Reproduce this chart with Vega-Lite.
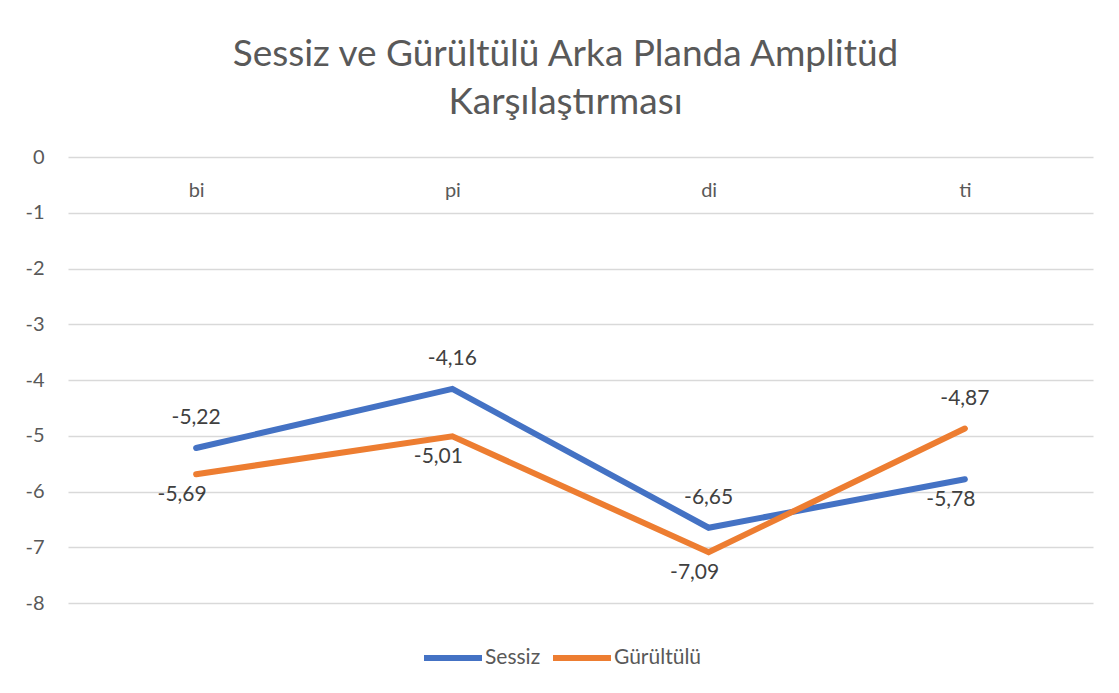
{
  "$schema": "https://vega.github.io/schema/vega-lite/v6.json",
  "width": 1025,
  "height": 446,
  "autosize": {"type": "none"},
  "padding": {"left": 68, "top": 157, "right": 26, "bottom": 90},
  "background": "#ffffff",
  "config": {
    "locale": {"number": {"decimal": ",", "thousands": ".", "grouping": [3], "currency": ["", " ₺"], "minus": "-"}},
    "view": {"stroke": null},
    "font": "Lato"
  },
  "title": {
    "text": ["Sessiz ve Gürültülü Arka Planda Amplitüd", "Karşılaştırması"],
    "fontSize": 37,
    "fontWeight": "normal",
    "color": "#595959",
    "lineHeight": 48,
    "anchor": "middle",
    "dx": -15,
    "offset": 25,
    "font": "Lato"
  },
  "data": {
    "values": [
      {"cat": "bi", "series": "Sessiz", "value": -5.22},
      {"cat": "pi", "series": "Sessiz", "value": -4.16},
      {"cat": "di", "series": "Sessiz", "value": -6.65},
      {"cat": "ti", "series": "Sessiz", "value": -5.78},
      {"cat": "bi", "series": "Gürültülü", "value": -5.69},
      {"cat": "pi", "series": "Gürültülü", "value": -5.01},
      {"cat": "di", "series": "Gürültülü", "value": -7.09},
      {"cat": "ti", "series": "Gürültülü", "value": -4.87}
    ]
  },
  "encoding": {
    "x": {
      "field": "cat",
      "type": "nominal",
      "sort": ["bi", "pi", "di", "ti"],
      "scale": {"paddingInner": 0, "paddingOuter": 0},
      "axis": {
        "orient": "top",
        "title": null,
        "labelAngle": 0,
        "ticks": false,
        "tickSize": 0,
        "domain": false,
        "grid": false,
        "labelPadding": -33,
        "labelBaseline": "middle",
        "labelFontSize": 20,
        "labelColor": "#595959",
        "labelFont": "Lato"
      }
    },
    "y": {
      "field": "value",
      "type": "quantitative",
      "scale": {"domain": [-8, 0], "nice": false, "zero": false},
      "axis": {
        "title": null,
        "values": [0, -1, -2, -3, -4, -5, -6, -7, -8],
        "domain": false,
        "ticks": false,
        "tickSize": 0,
        "labelPadding": 24,
        "labelFontSize": 20,
        "labelColor": "#595959",
        "gridColor": "#d9d9d9",
        "gridWidth": 1.3,
        "format": "d",
        "labelFont": "Lato"
      }
    }
  },
  "layer": [
    {
      "mark": {"type": "line", "strokeWidth": 6, "strokeCap": "round", "strokeJoin": "miter"},
      "encoding": {
        "color": {
          "field": "series",
          "type": "nominal",
          "sort": ["Sessiz", "Gürültülü"],
          "scale": {"domain": ["Sessiz", "Gürültülü"], "range": ["#4472C4", "#ED7D31"]},
          "legend": {
            "title": null,
            "orient": "none",
            "legendX": 353,
            "legendY": 469,
            "direction": "horizontal",
            "symbolType": "stroke",
            "symbolSize": 3364,
            "symbolStrokeWidth": 6,
            "labelFontSize": 21,
            "labelColor": "#595959",
            "labelOffset": 0,
            "columnPadding": 0,
            "labelFont": "Lato"
          }
        }
      }
    },
    {
      "transform": [{"filter": "(datum.series == 'Sessiz' && datum.cat != 'ti') || (datum.series == 'Gürültülü' && datum.cat == 'ti')"}],
      "mark": {"type": "text", "dy": -30, "fontSize": 21, "color": "#404040", "font": "Lato"},
      "encoding": {"text": {"field": "value", "type": "quantitative", "format": ".2f"}}
    },
    {
      "transform": [{"filter": "!((datum.series == 'Sessiz' && datum.cat != 'ti') || (datum.series == 'Gürültülü' && datum.cat == 'ti'))"}],
      "mark": {"type": "text", "dy": 21, "dx": -14, "fontSize": 21, "color": "#404040", "font": "Lato"},
      "encoding": {"text": {"field": "value", "type": "quantitative", "format": ".2f"}}
    }
  ]
}
